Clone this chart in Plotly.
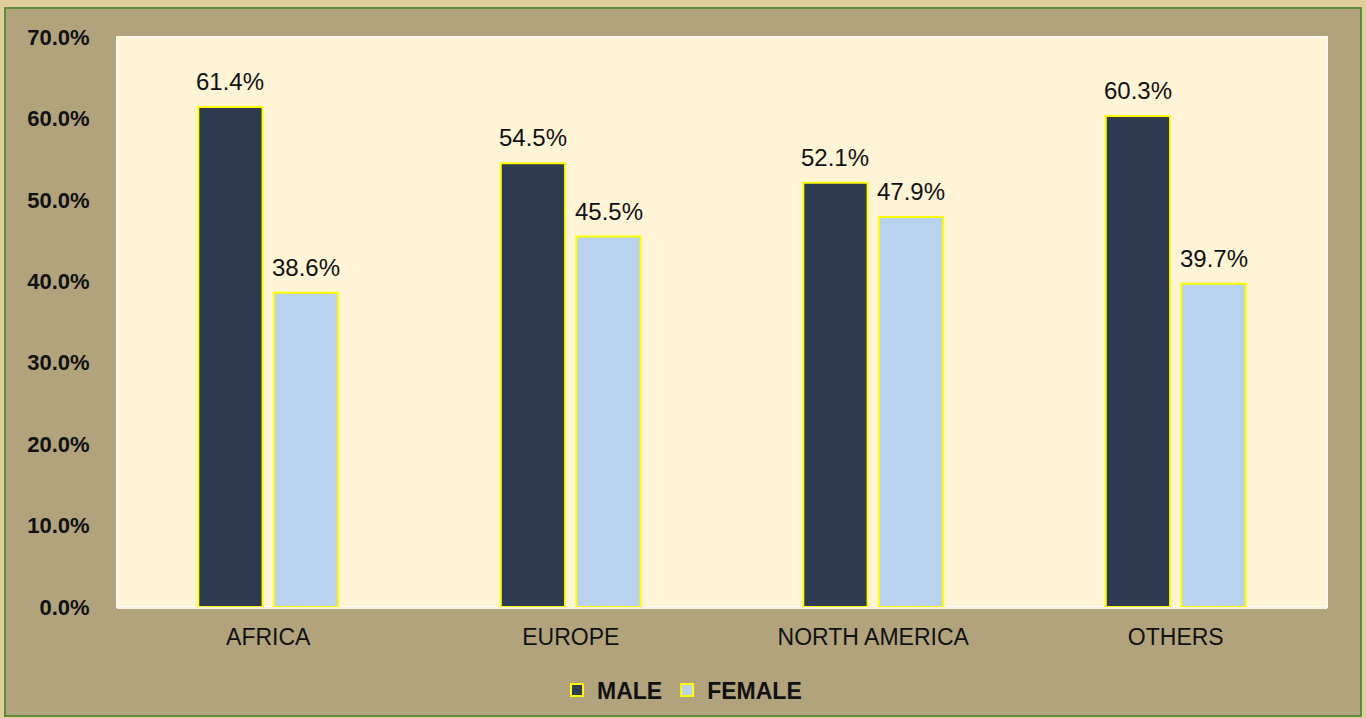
import plotly.graph_objects as go

categories = ["AFRICA", "EUROPE", "NORTH AMERICA", "OTHERS"]
male = [0.614, 0.545, 0.521, 0.603]
female = [0.386, 0.455, 0.479, 0.397]
y_ticks = [0.0, 0.1, 0.2, 0.3, 0.4, 0.5, 0.6, 0.7]

FONT = "Liberation Sans, Arial, sans-serif"

fig = go.Figure()
fig.add_trace(go.Bar(
    name="MALE", x=categories, y=male,
    marker=dict(color="#2e3a50", line=dict(color="#ffff00", width=2)),
))
fig.add_trace(go.Bar(
    name="FEMALE", x=categories, y=female,
    marker=dict(color="#b9d3ee", line=dict(color="#ffff00", width=2)),
))

L, R, T, B = 117, 39, 37, 111
W, H = 1366 - L - R, 718 - T - B

def px_x(p):
    return (p - L) / W

def px_y(p):
    return (718 - B - p) / H

# value labels above bars (bar centres are a quarter of the group width from the category centre)
half_slot = W / len(categories) * 0.5 / 4
for series, sign in ((male, -1), (female, 1)):
    for c, v in zip(categories, series):
        fig.add_annotation(
            x=c, y=v, xref="x", yref="y", text=f"{v*100:.1f}%",
            showarrow=False, xshift=sign * half_slot, yshift=10, yanchor="bottom",
            font=dict(size=24, color="#111111", family=FONT),
        )

# outer frame and plot background
fig.add_shape(type="rect", xref="paper", yref="paper",
              x0=px_x(5), x1=px_x(1361), y0=px_y(716), y1=px_y(8),
              fillcolor="#b3a37d", line=dict(color="#5e8c3a", width=2),
              layer="below")
fig.add_shape(type="rect", xref="paper", yref="paper",
              x0=0, x1=1, y0=0, y1=1,
              fillcolor="#fff4d6", line=dict(color="#fffaeb", width=2),
              layer="below")

fig.update_layout(
    width=1366, height=718,
    margin=dict(l=L, r=R, t=T, b=B),
    paper_bgcolor="#e2ce9c",
    plot_bgcolor="#fff4d6",
    barmode="group", bargap=0.5, bargroupgap=0.15,
    font=dict(family=FONT, color="#111111"),
    xaxis=dict(
        showgrid=False, showline=True, linecolor="#f4f0e6", linewidth=2,
        ticks="outside", ticklen=8, tickcolor="rgba(0,0,0,0)",
        tickfont=dict(size=23, color="#111111", family=FONT),
        automargin=False,
    ),
    yaxis=dict(
        range=[0, 0.7], tickvals=y_ticks, tickformat=".1%",
        showgrid=False, zeroline=False,
        ticks="outside", ticklen=22, tickcolor="rgba(0,0,0,0)",
        tickfont=dict(size=22, color="#111111", family=FONT, weight="bold"),
        automargin=False,
    ),
    legend=dict(
        orientation="h", x=px_x(682), xanchor="center",
        yref="container", y=(718 - 690) / 718, yanchor="middle",
        font=dict(size=23, color="#111111", family=FONT, weight="bold"),
        bgcolor="rgba(0,0,0,0)",
    ),
    showlegend=True,
)

fig.write_html("out.html", config={"displayModeBar": False},
               post_script="document.body.style.margin='0';document.body.style.overflow='hidden';")
